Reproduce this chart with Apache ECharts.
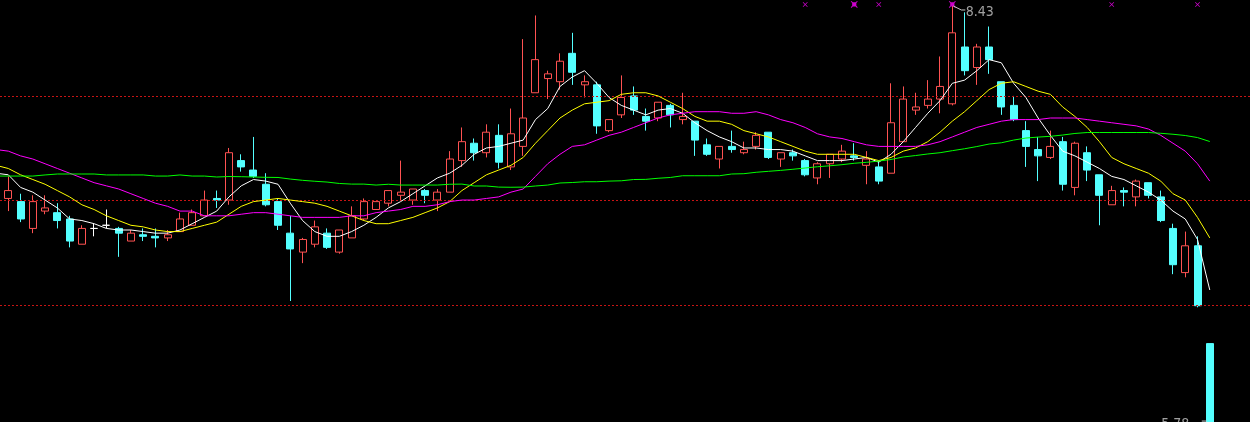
<!DOCTYPE html>
<html>
<head>
<meta charset="utf-8">
<script src="https://cdn.jsdelivr.net/npm/echarts@6/dist/echarts.min.js"></script>
<style>
html,body{margin:0;padding:0;background:#000;}
#c{width:1250px;height:422px;}
</style>
</head>
<body>
<div id="c"></div>
<script>
// ---- data; index = trading day ----
const open = [7.48,7.21,7.19,7.02,7.13,7.12,7.08,6.92,7.02,7.04,
7.02,6.94,6.98,6.97,6.96,7.00,7.04,7.10,7.21,7.20,
7.45,7.39,7.30,7.19,6.99,6.87,6.92,6.99,6.87,6.96,
7.08,7.14,7.18,7.23,7.20,7.26,7.20,7.25,7.45,7.56,
7.50,7.61,7.41,7.54,7.88,7.97,7.95,8.13,7.93,7.93,
7.64,7.74,7.86,7.73,7.72,7.80,7.71,7.70,7.55,7.46,
7.54,7.50,7.54,7.63,7.46,7.50,7.45,7.34,7.43,7.46,
7.48,7.42,7.41,7.37,7.57,7.77,7.80,7.84,7.81,8.17,
8.04,8.17,7.95,7.80,7.64,7.52,7.47,7.57,7.28,7.50,
7.36,7.17,7.26,7.22,7.31,7.22,7.02,6.74,6.91,6.29];
const close = [7.21,7.26,7.08,7.19,7.15,7.07,6.94,7.02,7.02,7.04,
6.99,6.99,6.97,6.96,6.98,7.08,7.12,7.20,7.20,7.50,
7.41,7.35,7.17,7.04,6.89,6.95,7.03,6.90,7.01,7.10,
7.19,7.19,7.26,7.25,7.27,7.23,7.25,7.46,7.57,7.50,
7.63,7.44,7.62,7.72,8.09,8.00,8.08,8.01,7.95,7.67,
7.71,7.85,7.77,7.70,7.82,7.74,7.73,7.58,7.49,7.54,
7.52,7.52,7.61,7.47,7.50,7.48,7.36,7.43,7.49,7.51,
7.47,7.46,7.32,7.69,7.84,7.79,7.84,7.92,8.26,8.02,
8.17,8.09,7.79,7.71,7.54,7.48,7.54,7.30,7.56,7.39,
7.23,7.26,7.25,7.32,7.23,7.07,6.79,6.91,6.53,5.79];
const low = [7.20,7.13,7.06,6.99,7.11,7.02,6.90,6.92,6.97,7.02,
6.84,6.94,6.94,6.90,6.94,7.00,7.04,7.10,7.15,7.17,
7.38,7.34,7.16,7.01,6.56,6.80,6.90,6.89,6.86,6.96,
7.07,7.14,7.16,7.20,7.17,7.18,7.13,7.25,7.41,7.45,
7.47,7.40,7.39,7.48,7.88,7.84,7.90,7.93,7.85,7.62,
7.63,7.72,7.74,7.64,7.70,7.66,7.68,7.48,7.48,7.40,
7.50,7.49,7.52,7.46,7.41,7.45,7.35,7.30,7.34,7.44,
7.45,7.30,7.30,7.37,7.57,7.74,7.78,7.75,7.80,7.99,
7.93,8.00,7.74,7.70,7.41,7.32,7.46,7.26,7.23,7.32,
7.04,7.17,7.16,7.16,7.21,7.06,6.73,6.71,6.52,5.78];
const high = [7.49,7.35,7.24,7.23,7.23,7.18,7.10,7.04,7.05,7.14,
7.03,7.01,7.02,7.02,7.01,7.12,7.14,7.26,7.26,7.53,
7.49,7.60,7.37,7.21,7.10,6.96,7.07,7.02,7.01,7.16,
7.21,7.19,7.26,7.45,7.27,7.27,7.27,7.51,7.66,7.59,
7.68,7.68,7.78,8.22,8.37,8.02,8.13,8.26,7.99,7.95,
7.71,7.99,7.92,7.78,7.82,7.81,7.88,7.70,7.59,7.54,
7.64,7.57,7.63,7.63,7.50,7.52,7.46,7.44,7.49,7.55,
7.56,7.51,7.45,7.94,7.92,7.88,7.96,8.11,8.43,8.39,
8.19,8.30,7.95,7.86,7.70,7.60,7.64,7.60,7.57,7.54,
7.36,7.29,7.28,7.33,7.31,7.26,7.05,7.00,6.97,6.29];
const ma5 = [7.37,7.36,7.28,7.25,7.20,7.15,7.08,7.07,7.05,7.02,
7.01,7.01,7.00,6.99,6.99,7.01,7.05,7.09,7.13,7.22,
7.29,7.33,7.32,7.30,7.18,7.07,7.00,6.97,6.97,7.00,
7.04,7.09,7.15,7.19,7.24,7.29,7.34,7.37,7.42,7.49,
7.53,7.54,7.56,7.58,7.71,7.78,7.92,7.98,8.02,7.94,
7.85,7.80,7.77,7.74,7.77,7.78,7.75,7.69,7.64,7.60,
7.57,7.53,7.53,7.52,7.52,7.51,7.48,7.45,7.45,7.45,
7.46,7.47,7.44,7.49,7.57,7.66,7.75,7.83,7.94,7.96,
8.02,8.09,8.07,7.94,7.85,7.72,7.61,7.51,7.48,7.44,
7.40,7.35,7.33,7.29,7.25,7.20,7.13,7.08,6.95,6.63];
const ma10 = [7.42,7.40,7.36,7.33,7.30,7.26,7.22,7.17,7.14,7.10,
7.07,7.04,7.03,7.01,7.00,7.00,7.02,7.04,7.06,7.11,
7.16,7.19,7.20,7.21,7.20,7.19,7.18,7.16,7.13,7.10,
7.07,7.05,7.05,7.07,7.09,7.12,7.15,7.19,7.26,7.31,
7.36,7.39,7.42,7.47,7.56,7.64,7.72,7.77,7.81,7.82,
7.83,7.87,7.88,7.88,7.86,7.82,7.78,7.73,7.70,7.70,
7.68,7.64,7.62,7.60,7.57,7.54,7.51,7.49,7.49,7.49,
7.49,7.47,7.45,7.47,7.51,7.53,7.57,7.63,7.70,7.76,
7.83,7.90,7.94,7.95,7.92,7.89,7.87,7.79,7.73,7.66,
7.57,7.47,7.43,7.40,7.37,7.32,7.24,7.20,7.09,6.96];
const ma30 = [7.52,7.51,7.48,7.46,7.43,7.40,7.37,7.34,7.31,7.29,
7.27,7.24,7.21,7.18,7.16,7.13,7.13,7.10,7.10,7.10,
7.11,7.12,7.12,7.11,7.10,7.09,7.09,7.09,7.09,7.10,
7.10,7.12,7.13,7.14,7.16,7.16,7.17,7.19,7.20,7.20,
7.21,7.22,7.25,7.27,7.35,7.43,7.49,7.54,7.55,7.58,
7.61,7.63,7.66,7.69,7.72,7.74,7.75,7.76,7.76,7.76,
7.75,7.75,7.76,7.74,7.71,7.69,7.66,7.62,7.60,7.59,
7.57,7.55,7.54,7.54,7.54,7.54,7.55,7.57,7.60,7.63,
7.66,7.68,7.70,7.71,7.71,7.71,7.72,7.72,7.72,7.71,
7.70,7.69,7.68,7.67,7.65,7.61,7.56,7.51,7.43,7.32];
const ma60 = [7.352,7.352,7.352,7.352,7.359,7.365,7.365,7.365,7.365,7.359,
7.359,7.359,7.359,7.352,7.352,7.359,7.352,7.352,7.346,7.349,
7.348,7.346,7.344,7.343,7.333,7.325,7.319,7.314,7.305,7.301,
7.301,7.295,7.300,7.295,7.295,7.295,7.295,7.300,7.301,7.289,
7.289,7.282,7.281,7.282,7.289,7.295,7.308,7.311,7.316,7.316,
7.320,7.322,7.330,7.331,7.338,7.343,7.354,7.354,7.354,7.354,
7.365,7.367,7.376,7.382,7.388,7.395,7.403,7.411,7.417,7.424,
7.433,7.439,7.447,7.457,7.473,7.482,7.492,7.500,7.513,7.525,
7.539,7.555,7.563,7.580,7.593,7.599,7.604,7.612,7.622,7.628,
7.628,7.628,7.628,7.628,7.628,7.623,7.617,7.609,7.596,7.571];
const levels = [7.86, 7.20, 6.53];          // dotted reference lines
const signalIdx = [66, 70, 72, 78, 91, 98];  // magenta signal marks
const signalBig = [0, 1, 0, 1, 0, 0];
const signalPrice = 8.44;
const extremeIdx = [78, 99];                 // high / low labels
const extremeVal = [8.43, 5.78];

// ---- chart ----
const chart = echarts.init(document.getElementById('c'), null, {renderer: 'canvas'});
const candles = open.map((o, i) => [i, o, close[i], low[i], high[i]]);
const pairs = arr => arr.map((v, i) => [i, v]);
const xPath = 'path://M0,1L1,0L5,4L9,0L10,1L6,5L10,9L9,10L5,6L1,10L0,9L4,5Z';
const xBigPath = 'path://M0,1L1,0L3,2L7,2L9,0L10,1L8,3L8,7L10,9L9,10L7,8L3,8L1,10L0,9L2,7L2,3Z';
const labelFont = '"Liberation Sans Narrow","DejaVu Sans Condensed",sans-serif';

function maLine(name, data, color) {
  return {
    name, type: 'line', data: pairs(data), showSymbol: false, symbol: 'none', z: 5,
    lineStyle: {color, width: 1}, itemStyle: {color}, silent: true
  };
}

const option = {
  backgroundColor: '#000000',
  animation: false,
  grid: {left: 0, top: 0, right: 0, bottom: 0, containLabel: false},
  xAxis: {
    type: 'value', min: 0.323, max: 102.281,
    axisLine: {show: false}, axisTick: {show: false}, axisLabel: {show: false}, splitLine: {show: false}
  },
  yAxis: {
    type: 'value', min: 5.793, max: 8.468, scale: true,
    axisLine: {show: false}, axisTick: {show: false}, axisLabel: {show: false}, splitLine: {show: false}
  },
  series: [
    {
      type: 'candlestick', data: candles, encode: {x: 0, y: [1, 2, 3, 4]},
      barWidth: 7.5, z: 3,
      itemStyle: {
        color: '#000000', borderColor: '#ff5252',
        color0: '#54ffff', borderColor0: '#54ffff',
        borderColorDoji: '#ffffff', borderWidth: 1
      },
      markLine: {
        silent: true, symbol: ['none', 'none'], label: {show: false},
        lineStyle: {color: '#c81414', type: [2, 2], width: 1},
        data: levels.map(v => ({yAxis: v}))
      }
    },
    maLine('MA5', ma5, '#ffffff'),
    maLine('MA10', ma10, '#ffff00'),
    maLine('MA30', ma30, '#ff00ff'),
    maLine('MA60', ma60, '#00ff00'),
    {
      type: 'scatter', z: 6, silent: true,
      data: signalIdx.map((k, i) => ({
        value: [k, signalPrice],
        symbol: signalBig[i] ? xBigPath : xPath,
        symbolSize: signalBig[i] ? 7 : 5
      })),
      itemStyle: {color: '#ff00ff'}
    },
    {
      type: 'scatter', z: 7, silent: true, clip: false,
      data: extremeIdx.map((k, i) => ({
        value: [k, extremeVal[i]],
        label: {position: i === 0 ? 'right' : 'left'}
      })),
      symbolSize: 1, itemStyle: {color: 'rgba(0,0,0,0)'},
      label: {
        show: true, color: '#c8c8c8', fontSize: 14, fontFamily: labelFont,
        formatter: p => p.value[1].toFixed(2), distance: 0
      },
      labelLayout: (params) => params.dataIndex === 0 ? {dx: 13, dy: 6} : {dx: -20, dy: 0}
    }
  ]
};
chart.setOption(option);

// leader lines from the extreme points to their labels
const hi = chart.convertToPixel({gridIndex: 0}, [extremeIdx[0], extremeVal[0]]);
const lo = chart.convertToPixel({gridIndex: 0}, [extremeIdx[1], extremeVal[1]]);
chart.setOption({
  graphic: [
    {type: 'polyline', silent: true, z: 10,
     shape: {points: [[hi[0] + 1, hi[1]], [hi[0] + 9, hi[1] + 4], [hi[0] + 13, hi[1] + 4]]},
     style: {stroke: '#c8c8c8', fill: null, lineWidth: 1}},
    {type: 'polyline', silent: true, z: 10,
     shape: {points: [[lo[0] - 3, lo[1] - 3], [lo[0] - 8, lo[1] - 3]]},
     style: {stroke: '#c8c8c8', fill: null, lineWidth: 1}}
  ]
});
</script>
</body>
</html>
